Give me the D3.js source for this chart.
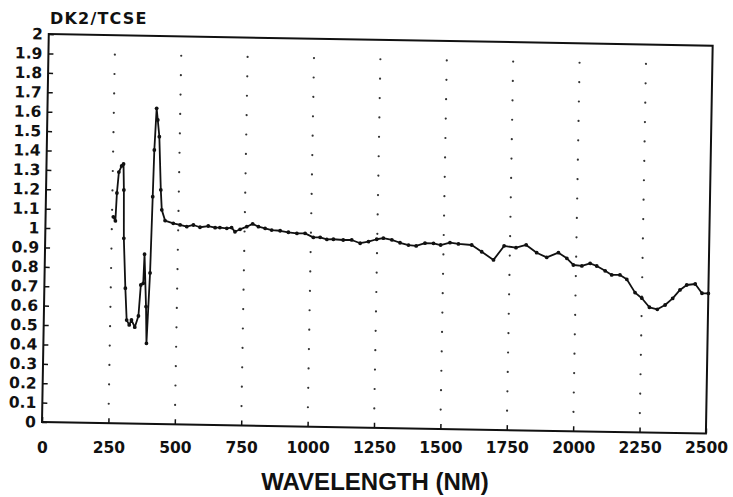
<!DOCTYPE html>
<html>
<head>
<meta charset="utf-8">
<script src="https://cdn.jsdelivr.net/npm/d3@7"></script>
<style>
  html, body { margin: 0; padding: 0; background: #fff; }
  svg { display: block; }
</style>
</head>
<body>
<svg id="chart" width="733" height="497"></svg>
<script>
// ---- data ----
const wavelength = [255, 263, 267, 273, 283, 290, 293, 296, 305, 312, 322, 330, 343, 356, 363, 372, 375, 384, 388, 397,
  402, 405, 411, 416, 423, 432, 437, 450, 481, 507, 532, 557, 582, 613, 639, 657, 683, 701, 714, 733,
  758, 780, 802, 827, 852, 884, 915, 947, 978, 1009, 1035, 1060, 1085, 1122, 1154, 1186, 1217, 1248, 1273, 1305,
  1336, 1368, 1397, 1430, 1462, 1489, 1524, 1556, 1606, 1644, 1689, 1728, 1773, 1811, 1851, 1889, 1933, 1965, 1990, 2022,
  2053, 2078, 2110, 2135, 2166, 2192, 2224, 2250, 2279, 2309, 2338, 2366, 2393, 2418, 2450, 2476, 2500];
const ratio = [1.064, 1.043, 1.187, 1.295, 1.327, 1.337, 1.203, 0.954, 0.697, 0.533, 0.508, 0.534, 0.497, 0.555, 0.715, 0.724, 0.874, 0.604, 0.415, 0.778,
  1.171, 1.412, 1.627, 1.567, 1.481, 1.207, 1.104, 1.049, 1.036, 1.028, 1.020, 1.029, 1.018, 1.025, 1.017, 1.018, 1.015, 1.019, 0.998, 1.011,
  1.025, 1.040, 1.026, 1.018, 1.010, 1.007, 1.000, 0.995, 0.996, 0.976, 0.977, 0.967, 0.968, 0.965, 0.966, 0.950, 0.959, 0.972, 0.978, 0.970,
  0.956, 0.945, 0.941, 0.956, 0.956, 0.948, 0.961, 0.955, 0.951, 0.917, 0.876, 0.949, 0.941, 0.956, 0.917, 0.894, 0.919, 0.891, 0.857, 0.853,
  0.867, 0.854, 0.830, 0.809, 0.810, 0.788, 0.720, 0.692, 0.646, 0.636, 0.659, 0.694, 0.738, 0.764, 0.770, 0.723, 0.723];
const xTicks = [0, 250, 500, 750, 1000, 1250, 1500, 1750, 2000, 2250, 2500];
const xTickLabels = ["0", "250", "500", "750", "1000", "1250", "1500", "1750", "2000", "2250", "2500"];
const yTicks = [0, 0.1, 0.2, 0.3, 0.4, 0.5, 0.6, 0.7, 0.8, 0.9, 1, 1.1, 1.2, 1.3, 1.4, 1.5, 1.6, 1.7, 1.8, 1.9, 2];
const yTickLabels = ["0", "0.1", "0.2", "0.3", "0.4", "0.5", "0.6", "0.7", "0.8", "0.9", "1", "1.1", "1.2", "1.3", "1.4", "1.5", "1.6", "1.7", "1.8", "1.9", "2"];
const chartTitle = "DK2/TCSE";
const xTitle = "WAVELENGTH (NM)";

// ---- layout ----
const svg = d3.select("#chart");
const x0 = 42, yBottom = 422, pw = 664, ph = 388, tilt = 1.0; // scanned plot is slightly rotated
const x = d3.scaleLinear().domain([0, 2500]).range([0, pw]);
const y = d3.scaleLinear().domain([0, 2]).range([ph, 0]);

const tickFont = "'DejaVu Sans', 'Liberation Sans', sans-serif";

svg.append("text")
  .attr("x", 50).attr("y", 24)
  .attr("font-family", tickFont).attr("font-weight", "bold")
  .attr("font-size", 16).attr("letter-spacing", 1.2)
  .attr("fill", "#111")
  .text(chartTitle);

const plot = svg.append("g")
  .attr("transform", `translate(${x0},${yBottom - ph}) rotate(${tilt},0,${ph})`);

// grid dots at tick intersections
const gridPts = [];
xTicks.slice(1, -1).forEach(xv => yTicks.slice(1, -1).forEach(yv => gridPts.push([xv, yv])));
plot.append("g").selectAll("circle").data(gridPts).join("circle")
  .attr("cx", d => x(d[0])).attr("cy", d => y(d[1]))
  .attr("r", 1.1).attr("fill", "#333");

// left axis (ticks inward, labels outside)
const yAxis = d3.axisLeft(y).tickValues(yTicks)
  .tickFormat((d, i) => yTickLabels[i]).tickSize(-5).tickPadding(6);
const gy = plot.append("g").call(yAxis);
gy.select(".domain").remove();
gy.selectAll("line").attr("stroke", "#111").attr("stroke-width", 1.5);
gy.selectAll("text").attr("font-family", tickFont).attr("font-weight", "bold")
  .attr("font-size", 15.5).attr("fill", "#111");

// bottom axis ticks (inward)
const xAxisTicks = d3.axisBottom(x).tickValues(xTicks).tickFormat("").tickSize(-5);
const gx = plot.append("g").attr("transform", `translate(0,${ph})`).call(xAxisTicks);
gx.select(".domain").remove();
gx.selectAll("line").attr("stroke", "#111").attr("stroke-width", 1.5);

// frame
plot.append("rect").attr("x", 0).attr("y", 0).attr("width", pw).attr("height", ph)
  .attr("fill", "none").attr("stroke", "#111").attr("stroke-width", 2);

// data line + markers
const pts = wavelength.map((w, i) => [w, ratio[i]]);
plot.append("path").datum(pts)
  .attr("fill", "none").attr("stroke", "#111").attr("stroke-width", 1.8)
  .attr("stroke-linejoin", "round")
  .attr("d", d3.line().x(d => x(d[0])).y(d => y(d[1])));
plot.append("g").selectAll("circle").data(pts).join("circle")
  .attr("cx", d => x(d[0])).attr("cy", d => y(d[1]))
  .attr("r", 1.9).attr("fill", "#111");

// x tick labels (typeset straight, not rotated)
const xAxisLabels = d3.axisBottom(x).tickValues(xTicks)
  .tickFormat((d, i) => xTickLabels[i]).tickSize(0).tickPadding(20);
const gxl = svg.append("g").attr("transform", `translate(${x0},${yBottom})`).call(xAxisLabels);
gxl.select(".domain").remove();
gxl.selectAll("text").attr("font-family", tickFont).attr("font-weight", "bold")
  .attr("font-size", 15.5).attr("fill", "#111");

svg.append("text")
  .attr("x", 375).attr("y", 490).attr("text-anchor", "middle")
  .attr("font-family", "'Liberation Sans', Arial, sans-serif").attr("font-weight", "bold")
  .attr("font-size", 24)
  .attr("fill", "#111")
  .text(xTitle);
</script>
</body>
</html>
